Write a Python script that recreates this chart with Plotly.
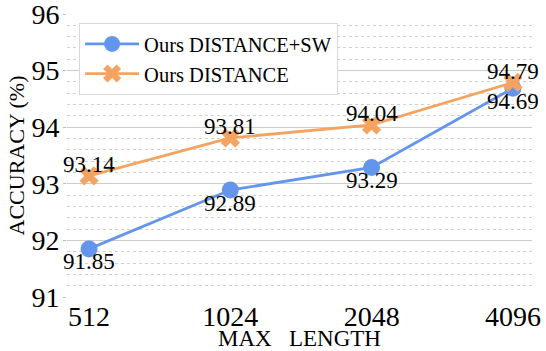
import plotly.graph_objects as go

categories = ["512", "1024", "2048", "4096"]
sw_values = [91.85, 92.89, 93.29, 94.69]
dist_values = [93.14, 93.81, 94.04, 94.79]
y_ticks = [91, 92, 93, 94, 95, 96]
series_names = ["Ours DISTANCE+SW", "Ours DISTANCE"]

BLUE = "#6495ED"
ORANGE = "#F4A460"
FONT = "Times New Roman"

fig = go.Figure()
fig.add_trace(go.Scatter(
    x=categories, y=sw_values, name=series_names[0],
    mode="lines+markers",
    line=dict(color=BLUE, width=2.8),
    marker=dict(symbol="circle", size=17, color=BLUE),
))
fig.add_trace(go.Scatter(
    x=categories, y=dist_values, name=series_names[1],
    mode="lines+markers",
    line=dict(color=ORANGE, width=2.8),
    marker=dict(symbol="x", size=17, color=ORANGE),
))

# value labels (category index positions): DISTANCE+SW below, DISTANCE above
for i, v in enumerate(sw_values):
    fig.add_annotation(x=i, y=v, text=f"{v:.2f}", showarrow=False,
                       yanchor="middle", yshift=-13,
                       font=dict(family=FONT, size=23, color="black"))
for i, v in enumerate(dist_values):
    fig.add_annotation(x=i, y=v, text=f"{v:.2f}", showarrow=False,
                       yanchor="middle", yshift=11,
                       font=dict(family=FONT, size=23, color="black"))

fig.update_layout(
    width=546, height=351,
    margin=dict(l=67, r=14, t=14, b=54, autoexpand=False),
    plot_bgcolor="white", paper_bgcolor="white",
    font=dict(family=FONT, color="black"),
    showlegend=True,
    legend=dict(
        x=0.026, y=0.968, xanchor="left", yanchor="top",
        bgcolor="white", bordercolor="#D8D8D8", borderwidth=1,
        font=dict(family=FONT, size=20.5, color="black"),
        itemwidth=54, tracegroupgap=0,
    ),
    xaxis=dict(
        type="category", range=[-0.156, 3.135], automargin=False,
        showgrid=False, showline=False, zeroline=False,
        tickfont=dict(family=FONT, size=28), ticklabeloverflow="allow",
        ticks="",
        title=dict(text="MAX   LENGTH", font=dict(family=FONT, size=23), standoff=3),
    ),
    yaxis=dict(
        range=[91, 96], tickvals=y_ticks, automargin=False,
        showgrid=True, gridcolor="#CCCCCC", gridwidth=1,
        showline=False, zeroline=False,
        tickfont=dict(family=FONT, size=28), ticklabeloverflow="allow",
        ticks="outside", ticklen=3, tickcolor="#BBBBBB", ticklabelstandoff=-2,
        minor=dict(dtick=0.2, showgrid=True, gridcolor="#D0D0D0", griddash="dot", gridwidth=1),
        title=dict(text="ACCURACY (%)", font=dict(family=FONT, size=22), standoff=0),
    ),
)

fig.write_html("out.html", config={"displayModeBar": False},
               post_script="document.body.style.margin='0';")
